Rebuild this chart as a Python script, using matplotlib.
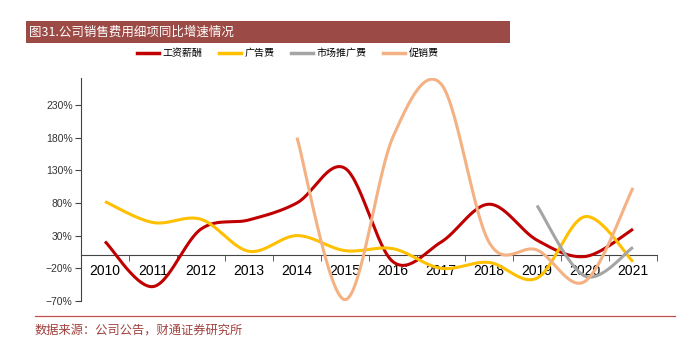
import numpy as np
import matplotlib
matplotlib.use('Agg')
import matplotlib.pyplot as plt
from matplotlib.patches import Rectangle
from matplotlib.lines import Line2D

plt.rcParams['font.family'] = ['Liberation Sans', 'Noto Sans CJK SC', 'DejaVu Sans']
plt.rcParams['axes.unicode_minus'] = True

years = ['2010', '2011', '2012', '2013', '2014', '2015', '2016', '2017', '2018', '2019', '2020', '2021']
salary = [21, -48, 40, 54, 80, 133, -10, 20, 78, 23, -2, 40]
advert = [82, 50, 55, 6, 30, 7, 10, -20, -11, -35, 59, -10]
promo_mkt = [None, None, None, None, None, None, None, None, None, 76, -32, 12]
promotion = [None, None, None, None, 180, -68, 181, 262, 20, 8, -40, 103]

series_names = ['工资薪酬', '广告费', '市场推广费', '促销费']
series_colors = ['#C00000', '#FFC000', '#A5A5A5', '#F4B183']
y_ticks = [-70, -20, 30, 80, 130, 180, 230]


def smooth_curve(xs, ys, steps=30):
    # excel style smoothed line (catmull-rom as bezier)
    pts = np.column_stack([xs, ys]).astype(float)
    n = len(pts)
    out = []
    for i in range(n - 1):
        p0 = pts[i - 1] if i > 0 else pts[i]
        p1 = pts[i]
        p2 = pts[i + 1]
        p3 = pts[i + 2] if i + 2 < n else pts[i + 1]
        c1 = p1 + (p2 - p0) / 6
        c2 = p2 - (p3 - p1) / 6
        t = np.linspace(0, 1, steps)[:, None]
        seg = (1 - t) ** 3 * p1 + 3 * (1 - t) ** 2 * t * c1 + 3 * (1 - t) * t ** 2 * c2 + t ** 3 * p2
        out.append(seg)
    out = np.vstack(out)
    return out[:, 0], out[:, 1]


def plot_series(ax, values, color):
    xs = [i for i, v in enumerate(values) if v is not None]
    ys = [v for v in values if v is not None]
    sx, sy = smooth_curve(xs, ys)
    ax.plot(sx, sy, color=color, linewidth=2.2, solid_capstyle='butt', zorder=3)


fig = plt.figure(figsize=(6.92, 3.42), dpi=100)

# title bar
fig.patches.append(Rectangle((26 / 692, 1 - 43 / 342), 484 / 692, 22 / 342,
                             transform=fig.transFigure, facecolor='#9C4A45', edgecolor='none'))
fig.text(29 / 692, 1 - 32 / 342, '图31.公司销售费用细项同比增速情况', color='white',
         fontsize=9, va='center', ha='left', family=['Noto Sans CJK SC', 'DejaVu Sans'])

ax = fig.add_axes([81 / 692, 41 / 342, 576 / 692, 223 / 342])

for values, color in zip([salary, advert, promo_mkt, promotion], series_colors):
    plot_series(ax, values, color)

ax.set_xlim(-0.5, len(years) - 0.5)
ax.set_ylim(-70, 271)
ax.set_yticks(y_ticks)
ax.set_yticklabels(['\u2212%d%%' % -v if v < 0 else '%d%%' % v for v in y_ticks], fontsize=7.5, color='#333333')

ax.set_xticks(range(len(years)))
ax.set_xticklabels(years, fontsize=8, color='#222222')
ax.set_xticks(np.arange(0.5, len(years)), minor=True)
ax.tick_params(axis='x', which='major', length=0, pad=6)
ax.tick_params(axis='x', which='minor', length=4, direction='out', color='#444444')
ax.tick_params(axis='y', length=4, direction='out', color='#444444', pad=2)

ax.spines['top'].set_visible(False)
ax.spines['right'].set_visible(False)
ax.spines['bottom'].set_position(('data', 0))
ax.spines['bottom'].set_color('#444444')
ax.spines['left'].set_color('#444444')
ax.spines['bottom'].set_zorder(2)

# legend
handles = [Line2D([0], [0], color=c, linewidth=2.5) for c in series_colors]
fig.legend(handles, series_names, loc='center', bbox_to_anchor=(0.416, 1 - 53 / 342), ncol=4,
           frameon=False, handlelength=2.2, columnspacing=1.7, handletextpad=0.3,
           prop={'family': ['Noto Sans CJK SC', 'DejaVu Sans'], 'size': 7.2})

# bottom rule and source
fig.add_artist(Line2D([35 / 692, 675 / 692], [1 - 316 / 342, 1 - 316 / 342],
                      transform=fig.transFigure, color='#C0504D', linewidth=0.9))
fig.text(35 / 692, 1 - 330 / 342, '数据来源：公司公告，财通证券研究所', color='#A0403C',
         fontsize=8.8, va='center', ha='left', family=['Noto Sans CJK SC', 'DejaVu Sans'])

fig.savefig('out.png', dpi=100)
